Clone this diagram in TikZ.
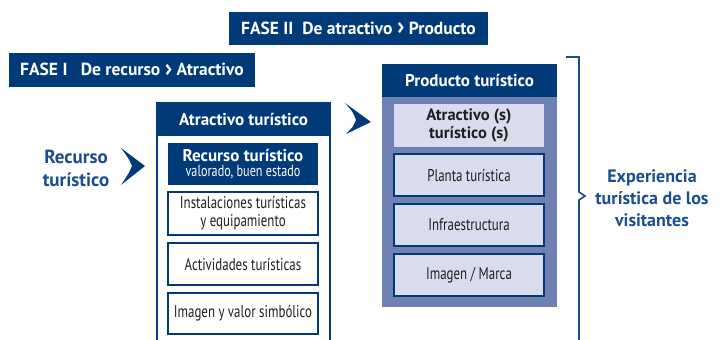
\documentclass[tikz,border=0pt]{standalone}
\usepackage{fontspec}
\setmainfont{PT Sans}
\newfontfamily\narrowfont[FakeStretch=0.76]{PT Sans}
\usepackage{graphicx}
\usepackage{tikz}
\usetikzlibrary{positioning}

\definecolor{faseblue}{HTML}{003A78}
\definecolor{textblue}{HTML}{1A4E8E}
\definecolor{prodfill}{HTML}{6F81B0}
\definecolor{lavender}{HTML}{D8DCEC}
\definecolor{boxtext}{HTML}{231F20}

\newcommand{\chev}{\raisebox{-0.5pt}{\scalebox{1.4}{›}}}

\tikzset{
  header/.style={fill=faseblue,text=white,inner sep=0pt,align=center,
    font=\bfseries\fontsize{17}{20}\selectfont},
  itembox/.style={draw=faseblue,line width=1.8pt,inner sep=0pt,align=center,
    minimum width=150pt,text=boxtext,font=\narrowfont\fontsize{17}{18}\selectfont},
  bluetext/.style={text=textblue,align=center,font=\bfseries\fontsize{18}{22}\selectfont}
}

\begin{document}
\begin{tikzpicture}[x=1pt,y=-1pt]
    \useasboundingbox (0,0) rectangle (721,340);
    \begin{scope}[every node/.style={header,font=\bfseries\fontsize{17.5}{20}\selectfont}]
    \node[minimum width=259pt,minimum height=33pt] (fasetwo) at (358.5,28.5) {FASE II\ \ De atractivo \chev\ Producto};
    \node[minimum width=246pt,minimum height=34pt] (faseone) at (132,70) {FASE I\ \ \ De recurso \chev\ Atractivo};
    \end{scope}

    \node[draw=faseblue,line width=2pt,minimum width=173pt,minimum height=242pt,inner sep=0pt] (atrframe) at (243.5,224) {};
    \node[header,minimum width=173pt,minimum height=33pt] (atrhead) at (243.5,119.5) {Atractivo turístico};
    \node[header,minimum width=150pt,minimum height=42pt,font=\bfseries\fontsize{17}{16}\selectfont] (recbox) at (243,164)
      {Recurso turístico\\[-1pt]{\narrowfont\mdseries\fontsize{16}{16}\selectfont valorado, buen estado}};
    \begin{scope}[every node/.style={itembox,fill=white}]
    \node[minimum height=43pt] (inst) at (243,213.5) {Instalaciones turísticas\\y equipamiento};
    \node[minimum height=42pt] (activ) at (243,264) {Actividades turísticas};
    \node[minimum height=41pt] (imgval) at (243,313.5) {Imagen y valor simbólico};
    \end{scope}

    \node[fill=prodfill,minimum width=175pt,minimum height=243pt,inner sep=0pt] (prodframe) at (469.5,185.5) {};
    \node[header,minimum width=175pt,minimum height=33pt] (prodhead) at (469.5,80.5) {Producto turístico};
    \node[fill=lavender,minimum width=150pt,minimum height=43pt,inner sep=0pt,align=center,text=boxtext,
      font=\bfseries\fontsize{16.5}{18}\selectfont] (atrs) at (469,125.5) {Atractivo (s)\\turístico (s)};
    \begin{scope}[every node/.style={itembox,fill=lavender,minimum height=42pt}]
    \node (planta) at (469,175) {Planta turística};
    \node (infra) at (469,225) {Infraestructura};
    \node (marca) at (469,275) {Imagen / Marca};
    \end{scope}

    \node[bluetext,font=\bfseries\fontsize{19}{23}\selectfont] (recurso) at (76,168) {Recurso\\turístico};
    \node[bluetext] (experiencia) at (652,198) {Experiencia\\turística de los\\visitantes};

    \fill[faseblue] (121,148) -- (145,166) -- (121,185) .. controls (129,173) .. (132,166) .. controls (129,159) .. (121,148);
    \fill[faseblue] (345,103) -- (371,122) -- (346,134) .. controls (353,127) .. (356,120) .. controls (353,112) .. (345,103);

    \coordinate (bracetop) at (566,57);
    \coordinate (bracebot) at (579,345);
    \draw[textblue,line width=1.6pt] (bracetop) -- (579,57) -- (579,192) -- (585,196) -- (579,200) -- (bracebot);
\end{tikzpicture}
\end{document}
